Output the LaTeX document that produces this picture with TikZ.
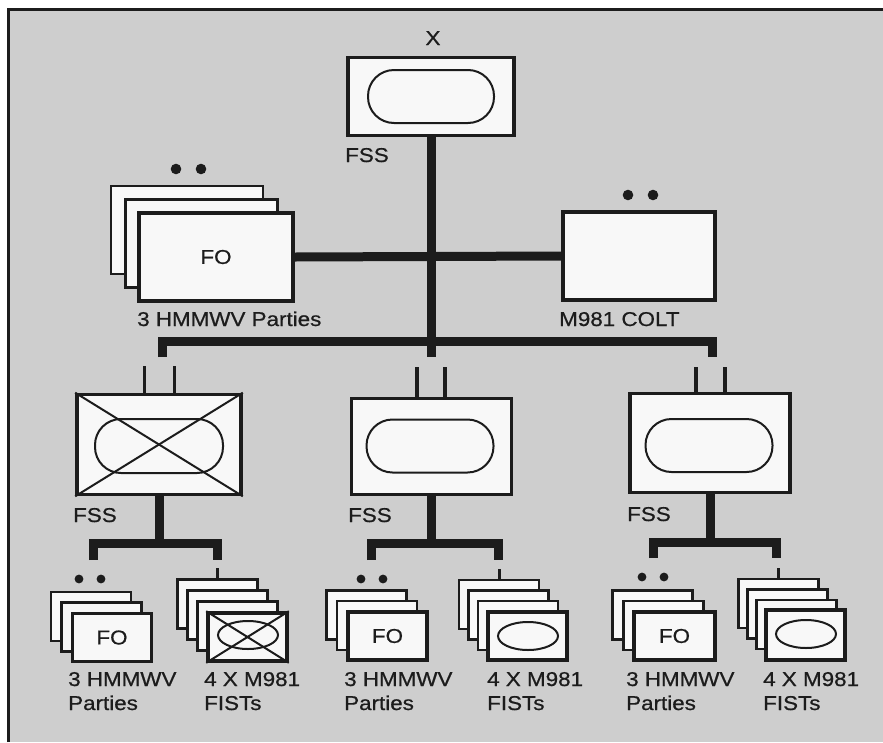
\documentclass[tikz,border=0pt]{standalone}
\usepackage{fontspec}
\setmainfont{Liberation Sans}[FakeStretch=1.12, FakeBold=0.7]
\usetikzlibrary{shapes.geometric}
\definecolor{bg}{RGB}{206,206,206}
\definecolor{ink}{RGB}{28,28,28}
\definecolor{paper}{RGB}{248,248,248}
\tikzset{
  sz/.style 2 args={minimum width=#1pt, minimum height=#2pt},
  bxT/.style={draw=ink, fill=paper, line width=3.6pt, inner sep=0pt, text=ink},
  bxB/.style={draw=ink, fill=paper, line width=2.2pt, inner sep=0pt},
  ovl/.style={draw=ink, line width=2pt, rounded corners=26pt, inner sep=0pt},
  ell/.style={draw=ink, ellipse, line width=2pt, inner sep=0pt},
  lbl/.style={anchor=base west, inner sep=0pt, text=ink},
  bar/.style={draw=ink, line width=9pt, line join=miter, line cap=butt},
  pairln/.style={draw=ink, line width=3.5pt},
  tickln/.style={draw=ink, line width=3pt},
  xln/.style={draw=ink, line width=2pt},
  dot/.style={fill=ink},
}
\begin{document}
\begin{tikzpicture}[x=1pt, y=-1pt, font=\fontsize{20}{24}\selectfont]
\useasboundingbox (0,0) rectangle (883,742);
\fill[white] (0,0) rectangle (883,742);
\fill[bg] (9,10) rectangle (883,742);
\draw[ink, line width=2.5pt] (8.7,742) -- (8.7,9.5) -- (883,9.5);

% ---------- top unit ----------
\node[bxT, sz={166}{78}] (top) at (431,96.5) {};
\node[ovl, sz={126}{53}] (topov) at (431,96.5) {};
\node[anchor=base, inner sep=0pt, text=ink] (xlab) at (433,45) {X};
\node[lbl] (topfss) at (345,162) {FSS};

% FO parties (top)
\node[bxB, sz={152}{88}] (fo3) at (187,230) {};
\node[bxB, sz={152}{88}] (fo2) at (201.5,243.5) {};
\node[bxT, sz={154}{88}] (fo1) at (216,257) {FO};
\fill[dot] (176,169) circle (5.3);
\fill[dot] (201,169) circle (5.3);
\node[lbl] (folab) at (137,326) {3 HMMWV Parties};

% COLT
\node[bxT, sz={152}{88}] (colt) at (639,256) {};
\fill[dot] (628,195) circle (5.3);
\fill[dot] (653,195) circle (5.3);
\node[lbl] (coltlab) at (559,326) {M981 COLT};

% top connectors
\coordinate (hub) at (431,357);
\coordinate (barLd) at (162.5,357);
\coordinate (barLu) at (162.5,341);
\coordinate (barRu) at (712.5,341);
\coordinate (barRd) at (712.5,357);
\draw[bar] (fo1.east) -- (colt.west);
\draw[bar] (top.south) -- (hub);
\draw[bar] (barLd) -- (barLu) -- (barRu) -- (barRd);

% ---------- mid units ----------
\node[bxT, sz={164}{100}] (midL) at (159,444.5) {};
\node[ovl, sz={128}{54}] (midLov) at (159,446) {};
\draw[xln] (midL.north west) -- (midL.south east);
\draw[xln] (midL.north east) -- (midL.south west);
\node[bxT, sz={160}{96}] (midM) at (431.5,446.5) {};
\node[ovl, sz={127}{53}] (midMov) at (430,446) {};
\node[bxT, sz={160}{99}] (midR) at (710,443) {};
\node[ovl, sz={127}{53}] (midRov) at (709,445.5) {};

\draw[pairln] ([xshift=-14.5pt]midL.north) -- ++(0,-27);
\draw[pairln] ([xshift=15.5pt]midL.north) -- ++(0,-27);
\draw[pairln] ([xshift=-14.5pt]midM.north) -- ++(0,-30);
\draw[pairln] ([xshift=13.5pt]midM.north) -- ++(0,-30);
\draw[pairln] ([xshift=-14pt]midR.north) -- ++(0,-25);
\draw[pairln] ([xshift=15pt]midR.north) -- ++(0,-25);

\node[lbl] (fssL) at (73,522) {FSS};
\node[lbl] (fssM) at (348,522) {FSS};
\node[lbl] (fssR) at (627,521) {FSS};

% ---------- bottom stacks: left ----------
\node[bxB, sz={80}{49}] (foL3) at (91,616.5) {};
\node[bxB, sz={80}{49}] (foL2) at (101.5,627) {};
\node[bxT, sz={79}{48}] (foL1) at (112,637.5) {FO};
\node[bxB, sz={80}{49}] (fiL4) at (217.5,604) {};
\node[bxB, sz={80}{49}] (fiL3) at (227.5,615) {};
\node[bxB, sz={80}{49}] (fiL2) at (237.5,626) {};
\node[bxT, sz={79}{48}] (fiL1) at (247.5,637) {};
\node[ell, sz={60}{28}] (fiLov) at (248,635) {};
\draw[xln] (fiL1.north west) -- (fiL1.south east);
\draw[xln] (fiL1.north east) -- (fiL1.south west);

% ---------- bottom stacks: middle ----------
\node[bxB, sz={80}{49}] (foM3) at (366.5,615) {};
\node[bxB, sz={80}{49}] (foM2) at (377,625.5) {};
\node[bxT, sz={79}{48}] (foM1) at (387.5,636) {FO};
\node[bxB, sz={80}{49}] (fiM4) at (499,604.5) {};
\node[bxB, sz={80}{49}] (fiM3) at (508.5,615) {};
\node[bxB, sz={80}{49}] (fiM2) at (518,625.5) {};
\node[bxT, sz={79}{48}] (fiM1) at (527.5,636) {};
\node[ell, sz={60}{28}] (fiMov) at (528,636) {};

% ---------- bottom stacks: right ----------
\node[bxB, sz={80}{49}] (foR3) at (652.5,615) {};
\node[bxB, sz={80}{49}] (foR2) at (663.5,625.5) {};
\node[bxT, sz={81}{48}] (foR1) at (674.5,636) {FO};
\node[bxB, sz={80}{49}] (fiR4) at (778.5,603.5) {};
\node[bxB, sz={80}{49}] (fiR3) at (787.5,614) {};
\node[bxB, sz={80}{49}] (fiR2) at (796.5,624.5) {};
\node[bxT, sz={79}{50}] (fiR1) at (805.5,635) {};
\node[ell, sz={60}{28}] (fiRov) at (806,634) {};

% ---------- sub connectors ----------
\coordinate (sLa) at (93,560);  \coordinate (sLb) at (93,543);
\coordinate (sLc) at (217,543); \coordinate (sLd) at (217,560);
\coordinate (sLt) at (159,543);
\draw[bar] (midL.south) -- (sLt);
\draw[bar] (sLa) -- (sLb) -- (sLc) -- (sLd);
\draw[tickln] (fiL4.north) -- ++(0,-10);

\coordinate (sMa) at (371,560);  \coordinate (sMb) at (371,543);
\coordinate (sMc) at (498,543);  \coordinate (sMd) at (498,560);
\coordinate (sMt) at (431.5,543);
\draw[bar] (midM.south) -- (sMt);
\draw[bar] (sMa) -- (sMb) -- (sMc) -- (sMd);
\draw[tickln] (fiM4.north) -- ++(0,-10);

\coordinate (sRa) at (653,558);  \coordinate (sRb) at (653,542);
\coordinate (sRc) at (776,542);  \coordinate (sRd) at (776,558);
\coordinate (sRt) at (710,542);
\draw[bar] (midR.south) -- (sRt);
\draw[bar] (sRa) -- (sRb) -- (sRc) -- (sRd);
\draw[tickln] (fiR4.north) -- ++(0,-10);

% dots
\fill[dot] (79,579) circle (4.4);  \fill[dot] (101,579) circle (4.4);
\fill[dot] (361,579) circle (4.4); \fill[dot] (383,579) circle (4.4);
\fill[dot] (642,577) circle (4.4); \fill[dot] (664,577) circle (4.4);

% bottom labels
\node[lbl] (lL1) at (68,686) {3 HMMWV};
\node[lbl] (lL2) at (68,710) {Parties};
\node[lbl] (lL3) at (204,686) {4 X M981};
\node[lbl] (lL4) at (204,710) {FISTs};
\node[lbl] (lM1) at (344,686) {3 HMMWV};
\node[lbl] (lM2) at (344,710) {Parties};
\node[lbl] (lM3) at (487,686) {4 X M981};
\node[lbl] (lM4) at (487,710) {FISTs};
\node[lbl] (lR1) at (626,686) {3 HMMWV};
\node[lbl] (lR2) at (626,710) {Parties};
\node[lbl] (lR3) at (763,686) {4 X M981};
\node[lbl] (lR4) at (763,710) {FISTs};
\end{tikzpicture}
\end{document}
